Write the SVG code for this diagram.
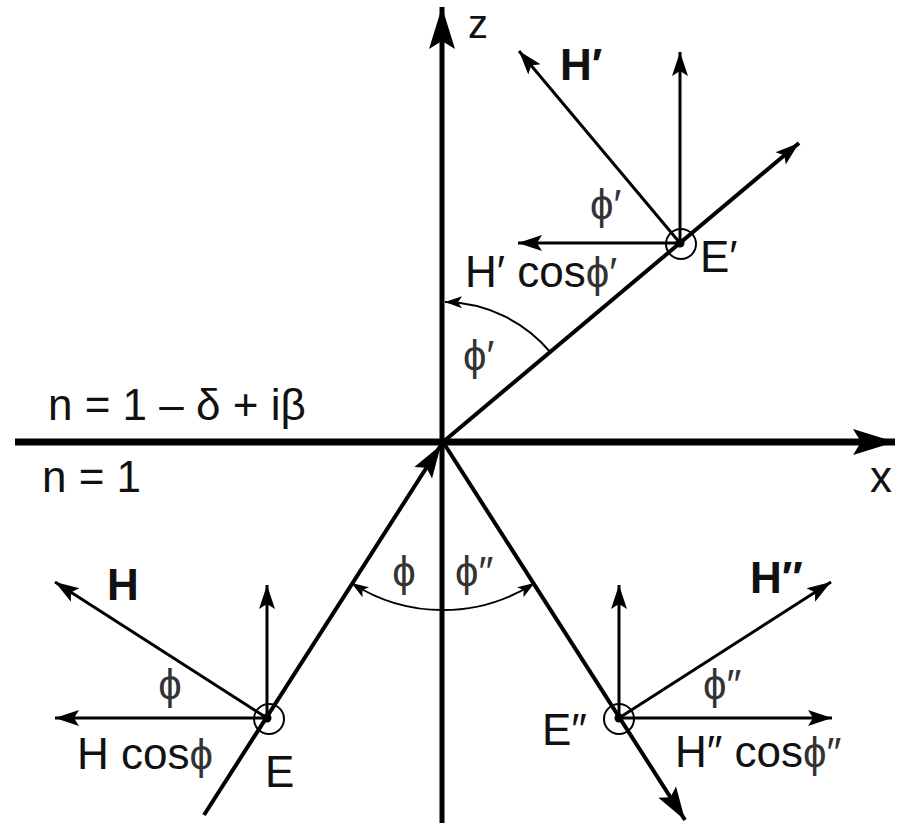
<svg xmlns="http://www.w3.org/2000/svg" width="904" height="826" viewBox="0 0 904 826">
<style>
text{font-family:"Liberation Sans",Arial,"DejaVu Sans",sans-serif;font-size:44px;fill:#111}
.b{font-weight:bold}
.ph{font-size:42px;fill:#333}
.ax{stroke:#000;fill:none}
.ray{stroke:#000;stroke-width:4;fill:none}
.vec{stroke:#000;stroke-width:3;fill:none}
.arc{stroke:#000;stroke-width:2;fill:none}
.ring{stroke:#000;stroke-width:2;fill:none}
</style>
<defs>
<marker id="big" markerUnits="userSpaceOnUse" markerWidth="44" markerHeight="30" viewBox="-42 -15 44 30" refX="0" refY="0" orient="auto">
<path d="M0,0 L-42,-13 L-34,0 L-42,13 Z" fill="#000"/>
</marker>
<marker id="mid" markerUnits="userSpaceOnUse" markerWidth="36" markerHeight="24" viewBox="-34 -12 36 24" refX="0" refY="0" orient="auto">
<path d="M0,0 L-33,-10.5 L-27,0 L-33,10.5 Z" fill="#000"/>
</marker>
<marker id="sm" markerUnits="userSpaceOnUse" markerWidth="28" markerHeight="20" viewBox="-26 -10 28 20" refX="0" refY="0" orient="auto">
<path d="M0,0 L-24,-8 L-19,0 L-24,8 Z" fill="#000"/>
</marker>
<marker id="tiny" markerUnits="userSpaceOnUse" markerWidth="20" markerHeight="14" viewBox="-18 -7 20 14" refX="0" refY="0" orient="auto-start-reverse">
<path d="M0,0 L-17,-6 L-13,0 L-17,6 Z" fill="#000"/>
</marker>
</defs>

<g id="connectors">
<line class="ax" x1="15" y1="442" x2="895" y2="442" stroke-width="7" marker-end="url(#big)"/>
<line class="ax" x1="442" y1="823" x2="442" y2="7" stroke-width="5" marker-end="url(#big)"/>
<line class="ray" x1="204" y1="815" x2="441" y2="445" marker-end="url(#mid)"/>
<line class="ray" x1="443" y1="442" x2="685" y2="820" marker-end="url(#mid)"/>
<line class="ray" x1="443" y1="442" x2="799" y2="143" marker-end="url(#sm)"/>
</g>

<g id="angle-arcs">
<path class="arc" d="M351.5,583 A168,168 0 0 0 534.5,583" marker-start="url(#tiny)" marker-end="url(#tiny)"/>
<path class="arc" d="M550.2,352 A140,140 0 0 0 445,302" marker-end="url(#tiny)"/>
</g>

<g id="frame-E">
<line class="vec" x1="267" y1="718" x2="267" y2="585" marker-end="url(#sm)"/>
<line class="vec" x1="267" y1="718" x2="55" y2="718" marker-end="url(#sm)"/>
<line class="vec" x1="267" y1="718" x2="55" y2="582" marker-end="url(#sm)"/>
<circle class="ring" cx="269" cy="719" r="15"/>
<circle cx="267" cy="718" r="4.5" fill="#000"/>
<text class="b" x="107" y="600">H</text>
<text class="ph" x="170" y="699" text-anchor="middle">ϕ</text>
<text x="77" y="769">H cos<tspan class="ph">ϕ</tspan></text>
<text x="265" y="787">E</text>
</g>

<g id="frame-E2">
<line class="vec" x1="619" y1="718" x2="619" y2="585" marker-end="url(#sm)"/>
<line class="vec" x1="619" y1="718" x2="832" y2="718" marker-end="url(#sm)"/>
<line class="vec" x1="619" y1="718" x2="831" y2="582" marker-end="url(#sm)"/>
<circle class="ring" cx="619" cy="719" r="15"/>
<circle cx="619" cy="718" r="4.5" fill="#000"/>
<text class="b" x="750" y="593">H″</text>
<text class="ph" x="703" y="699">ϕ″</text>
<text x="675" y="767">H″ cos<tspan class="ph">ϕ″</tspan></text>
<text x="542" y="745">E″</text>
</g>

<g id="frame-E1">
<line class="vec" x1="680" y1="243" x2="680" y2="52" marker-end="url(#sm)"/>
<line class="vec" x1="680" y1="243" x2="518" y2="243" marker-end="url(#sm)"/>
<line class="vec" x1="680" y1="243" x2="519" y2="51" marker-end="url(#sm)"/>
<circle class="ring" cx="681" cy="244" r="15"/>
<circle cx="680" cy="243" r="4.5" fill="#000"/>
<text class="b" x="560" y="80">H′</text>
<text class="ph" x="590" y="219">ϕ′</text>
<text x="465" y="287">H′ cos<tspan class="ph">ϕ′</tspan></text>
<text x="700" y="272">E′</text>
</g>

<g id="angle-labels">
<text class="ph" x="404" y="586" text-anchor="middle">ϕ</text>
<text class="ph" x="455" y="586">ϕ″</text>
<text class="ph" x="463" y="370">ϕ′</text>
</g>

<g id="axis-labels">
<text x="468" y="38" style="font-size:40px">z</text>
<text x="870" y="492">x</text>
<text x="48" y="420">n = 1 – δ + iβ</text>
<text x="42" y="492">n = 1</text>
</g>
</svg>
